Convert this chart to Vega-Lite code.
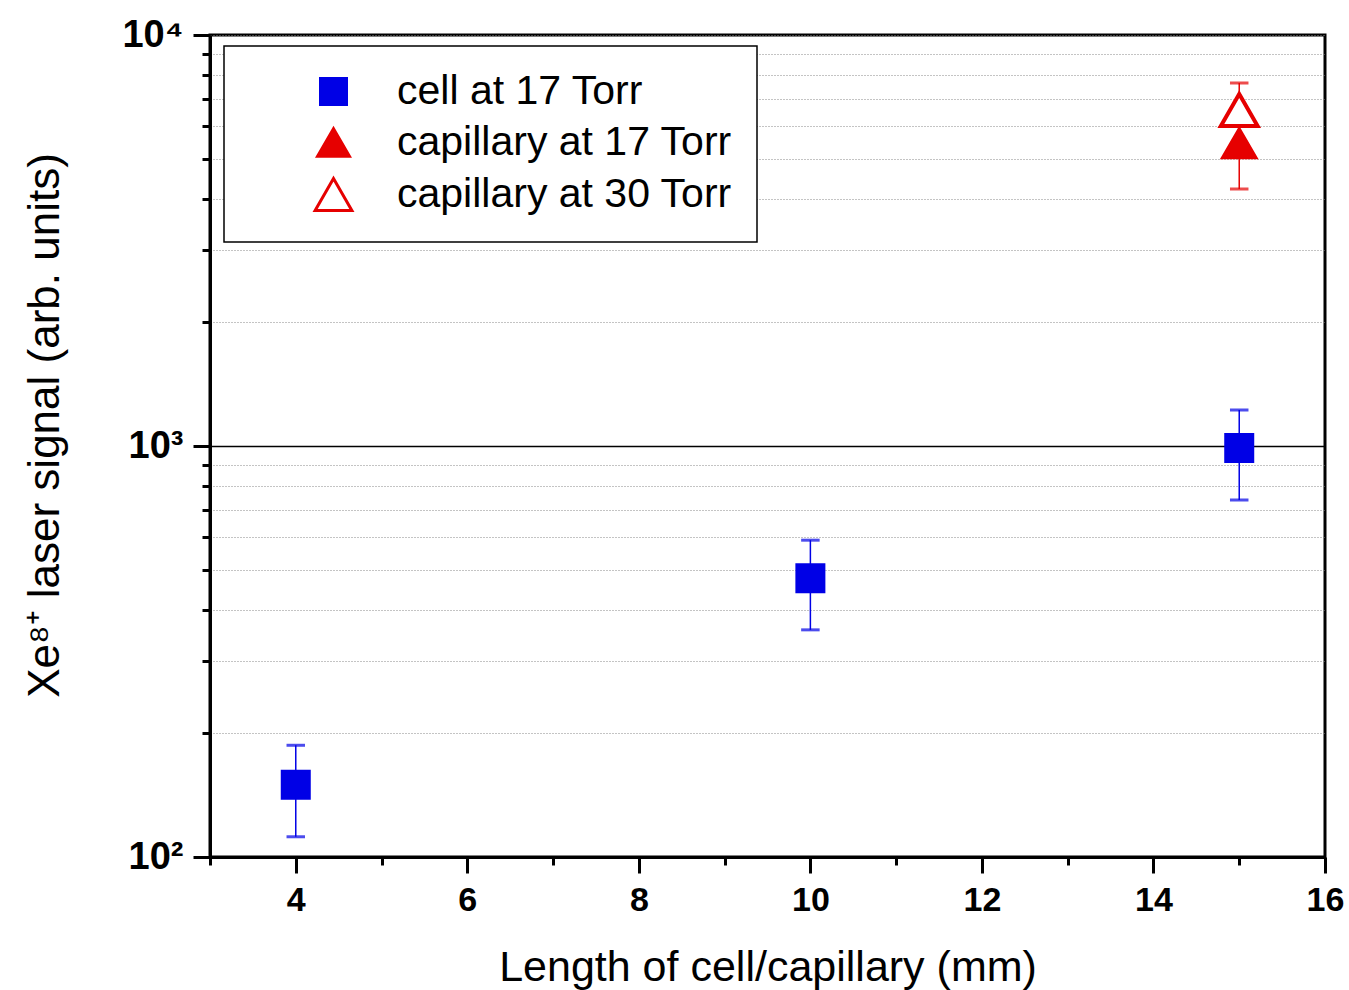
{
  "$schema": "https://vega.github.io/schema/vega-lite/v6.json",
  "autosize": {"type": "none"},
  "padding": {"left": 210, "top": 35, "right": 24, "bottom": 133},
  "width": 1115,
  "height": 822,
  "background": "white",
  "config": {
    "font": "Liberation Sans",
    "view": {"stroke": "black", "strokeWidth": 3},
    "legend": {
      "fillColor": "white",
      "strokeColor": "black",
      "strokeWidth": 1.5,
      "padding": 25,
      "labelFontSize": 41,
      "labelColor": "black",
      "labelLimit": 700,
      "labelOffset": 43,
      "symbolOffset": 64,
      "symbolSize": 560,
      "symbolStrokeWidth": 3,
      "symbolOpacity": 1,
      "rowPadding": 9
    }
  },
  "data": {
    "values": [
      {"length": 4, "signal": 150, "lo": 112, "hi": 187, "series": "cell at 17 Torr"},
      {"length": 10, "signal": 477, "lo": 357, "hi": 590, "series": "cell at 17 Torr"},
      {"length": 15, "signal": 989, "lo": 739, "hi": 1224, "series": "cell at 17 Torr"},
      {"length": 15, "signal": 5445, "lo": 4220, "hi": 6300, "series": "capillary at 17 Torr"},
      {"length": 15, "signal": 6570, "lo": 5400, "hi": 7640, "series": "capillary at 30 Torr"}
    ]
  },
  "encoding": {
    "x": {
      "field": "length",
      "type": "quantitative",
      "scale": {"domain": [3, 16], "nice": false, "zero": false},
      "axis": {
        "title": "Length of cell/capillary (mm)",
        "titleFontSize": 43,
        "titleFontWeight": "normal",
        "titleColor": "black",
        "titleBaseline": "alphabetic",
        "titleY": 123,
        "values": [3, 4, 5, 6, 7, 8, 9, 10, 11, 12, 13, 14, 15, 16],
        "labelExpr": "datum.value % 2 === 0 ? datum.label : ''",
        "labelFontSize": 34,
        "labelFontWeight": "bold",
        "labelColor": "black",
        "labelPadding": 10,
        "labelFlush": false,
        "labelOverlap": false,
        "grid": false,
        "domainColor": "black",
        "domainWidth": 3,
        "tickColor": "black",
        "tickWidth": 3,
        "tickSize": {"condition": {"test": "datum.value % 2 === 0", "value": 16}, "value": 8}
      }
    },
    "y": {
      "field": "signal",
      "type": "quantitative",
      "scale": {"type": "log", "domain": [100, 10000], "nice": false},
      "axis": {
        "title": "Xe⁸⁺ laser signal (arb. units)",
        "titleFontSize": 44,
        "titleFontWeight": "normal",
        "titleColor": "black",
        "titleBaseline": "alphabetic",
        "titleAngle": -90,
        "titleX": -152,
        "titleY": 390,
        "values": [100, 200, 300, 400, 500, 600, 700, 800, 900, 1000, 2000, 3000, 4000, 5000, 6000, 7000, 8000, 9000, 10000],
        "labelExpr": "datum.value == 100 ? '10²' : datum.value == 1000 ? '10³' : datum.value == 10000 ? '10⁴' : ''",
        "labelFontSize": 38,
        "labelFontWeight": "bold",
        "labelColor": "black",
        "labelPadding": 10,
        "labelFlush": false,
        "labelOverlap": false,
        "grid": true,
        "gridColor": {"condition": {"test": "datum.value == 1000", "value": "black"}, "value": "#888888"},
        "gridDash": {"condition": {"test": "datum.value == 1000", "value": []}, "value": [1, 2]},
        "gridWidth": {"condition": {"test": "datum.value == 1000", "value": 1.5}, "value": 1},
        "domainColor": "black",
        "domainWidth": 3,
        "tickColor": "black",
        "tickWidth": 3,
        "tickSize": {"condition": {"test": "datum.value == 100 || datum.value == 1000 || datum.value == 10000", "value": 17}, "value": 8}
      }
    },
    "stroke": {
      "field": "series",
      "type": "nominal",
      "scale": {"domain": ["cell at 17 Torr", "capillary at 17 Torr", "capillary at 30 Torr"], "range": ["#0000e6", "#e60000", "#e60000"]},
      "title": null,
      "legend": {"orient": "none", "legendX": 14, "legendY": 11, "labelExpr": "datum.label + '\u00a0\u00a0\u00a0'"}
    }
  },
  "layer": [
    {
      "mark": {"type": "rule", "strokeWidth": 1.5},
      "encoding": {
        "y": {"field": "lo", "type": "quantitative"},
        "y2": {"field": "hi"}
      }
    },
    {
      "mark": {"type": "tick", "orient": "horizontal", "size": 17, "thickness": 1.5, "filled": false, "strokeWidth": 1.5},
      "encoding": {
        "y": {"field": "lo", "type": "quantitative"}
      }
    },
    {
      "mark": {"type": "tick", "orient": "horizontal", "size": 17, "thickness": 1.5, "filled": false, "strokeWidth": 1.5},
      "encoding": {
        "y": {"field": "hi", "type": "quantitative"}
      }
    },
    {
      "mark": {"type": "point", "strokeWidth": 4, "opacity": 1, "fillOpacity": 1},
      "encoding": {
        "shape": {"field": "series", "type": "nominal", "scale": {"domain": ["cell at 17 Torr", "capillary at 17 Torr", "capillary at 30 Torr"], "range": ["square", "triangle-up", "triangle-up"]}, "title": null, "legend": {"orient": "none", "legendX": 14, "legendY": 11, "labelExpr": "datum.label + '\u00a0\u00a0\u00a0'"}},
        "fill": {"field": "series", "type": "nominal", "scale": {"domain": ["cell at 17 Torr", "capillary at 17 Torr", "capillary at 30 Torr"], "range": ["#0000e6", "#e60000", "#ffffff"]}, "title": null, "legend": {"orient": "none", "legendX": 14, "legendY": 11, "labelExpr": "datum.label + '\u00a0\u00a0\u00a0'"}},
        "size": {"field": "series", "type": "nominal", "scale": {"domain": ["cell at 17 Torr", "capillary at 17 Torr", "capillary at 30 Torr"], "range": [676, 1350, 1350]}, "legend": null}
      }
    }
  ]
}
